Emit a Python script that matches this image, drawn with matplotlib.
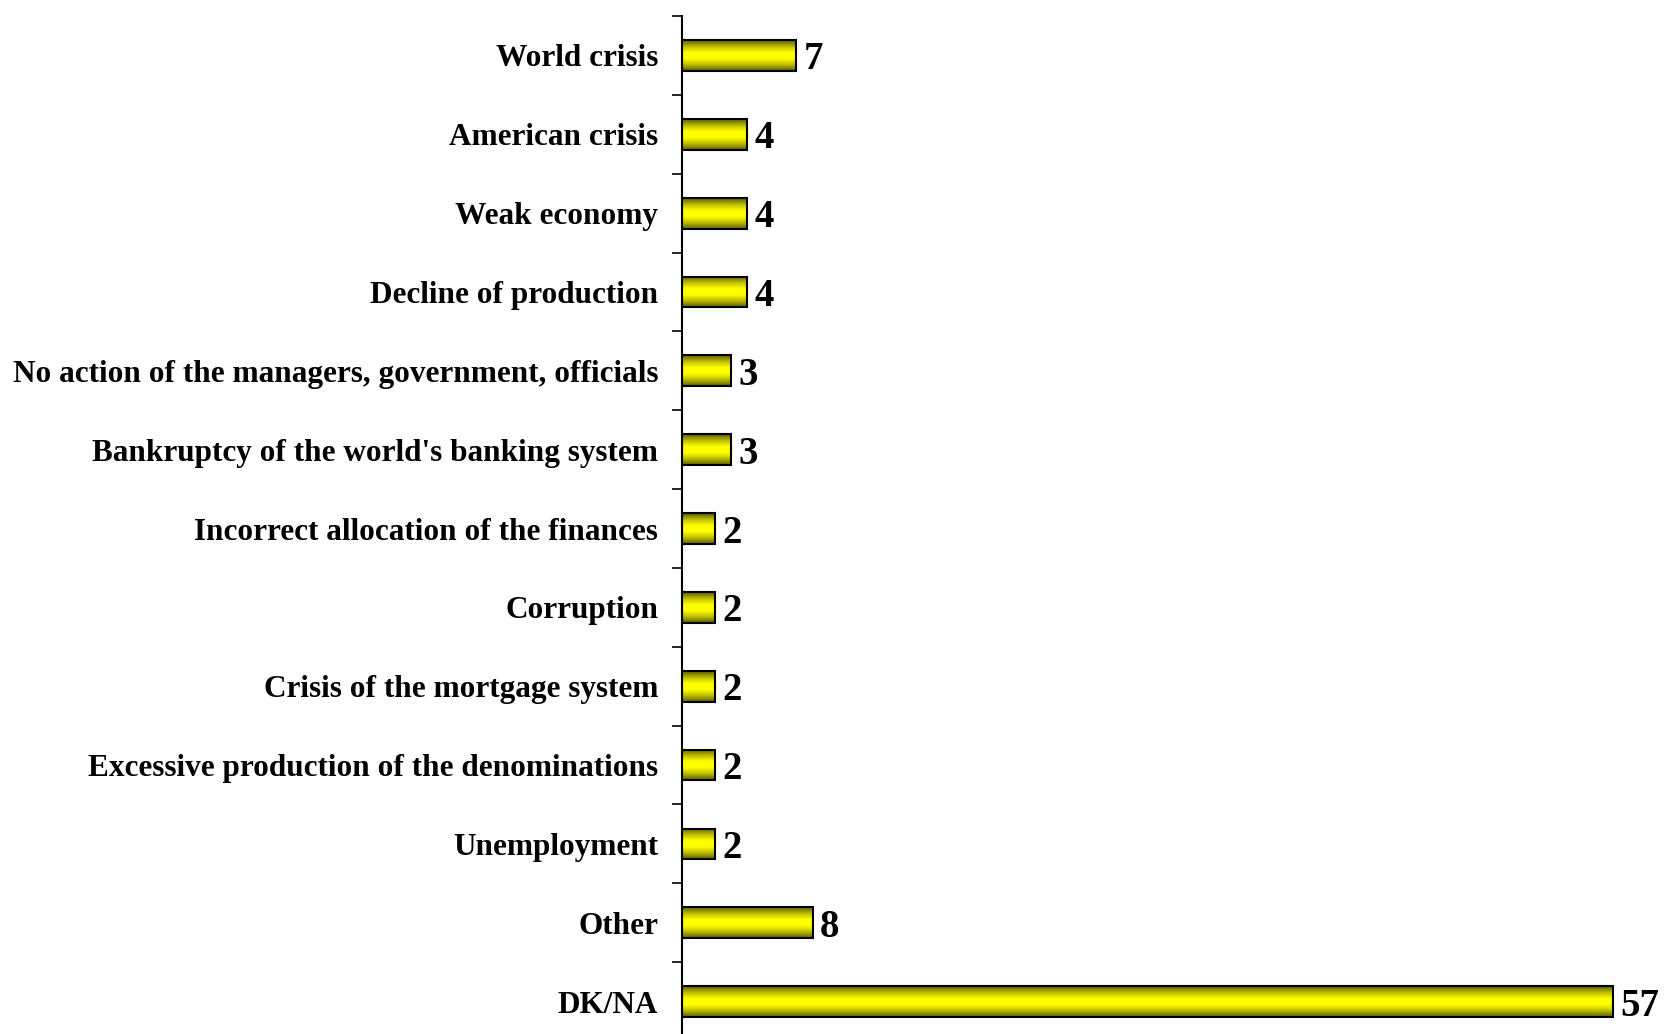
import numpy as np
import matplotlib.pyplot as plt
from matplotlib.colors import LinearSegmentedColormap
from matplotlib.patches import Rectangle

categories = [
    "World crisis",
    "American crisis",
    "Weak economy",
    "Decline of production",
    "No action of the managers, government, officials",
    "Bankruptcy of the world's banking system",
    "Incorrect allocation of the finances",
    "Corruption",
    "Crisis of the mortgage system",
    "Excessive production of the denominations",
    "Unemployment",
    "Other",
    "DK/NA",
]
values = [7, 4, 4, 4, 3, 3, 2, 2, 2, 2, 2, 8, 57]

plt.rcParams['font.family'] = ['Liberation Serif', 'DejaVu Serif']
plt.rcParams['font.weight'] = 'bold'

fig = plt.figure(figsize=(16.65, 10.34), dpi=100)
ax = fig.add_axes([0.4096, -0.0068, 0.5904, 0.9913])

n = len(categories)
ypos = np.arange(n)
bar_h = 0.39

# olive -> yellow -> olive vertical shading
cmap = LinearSegmentedColormap.from_list(
    "olive_yellow", ["#5e5e00", "#bcbc00", "#ffff00", "#ffff00", "#bcbc00", "#5e5e00"])
grad = np.linspace(0, 1, 64).reshape(-1, 1)

for y, v in zip(ypos, values):
    ax.imshow(grad, cmap=cmap, aspect='auto', interpolation='bilinear',
              extent=[0, v, y + bar_h / 2, y - bar_h / 2], zorder=2)
    ax.add_patch(Rectangle((0, y - bar_h / 2), v, bar_h, fill=False,
                           edgecolor='black', linewidth=1.5, zorder=3))
    ax.text(v + 0.45, y, str(v), va='center_baseline', ha='left',
            fontsize=28, fontweight='bold', color='black', zorder=4)

ax.set_xlim(0, 60.2)
ax.set_ylim(n - 0.5, -0.5)

ax.set_yticks(ypos)
ax.set_yticklabels(categories, fontsize=22.5, fontweight='bold',
                   va='center_baseline')
ax.tick_params(axis='y', which='major', length=0, pad=17)
ax.set_yticks(np.arange(-0.5, n, 1.0), minor=True)
ax.tick_params(axis='y', which='minor', length=7, width=1.2, direction='out')
ax.set_xticks([])

for s in ['top', 'right', 'bottom']:
    ax.spines[s].set_visible(False)
ax.spines['left'].set_linewidth(1.5)

fig.savefig("out.png", dpi=100)
